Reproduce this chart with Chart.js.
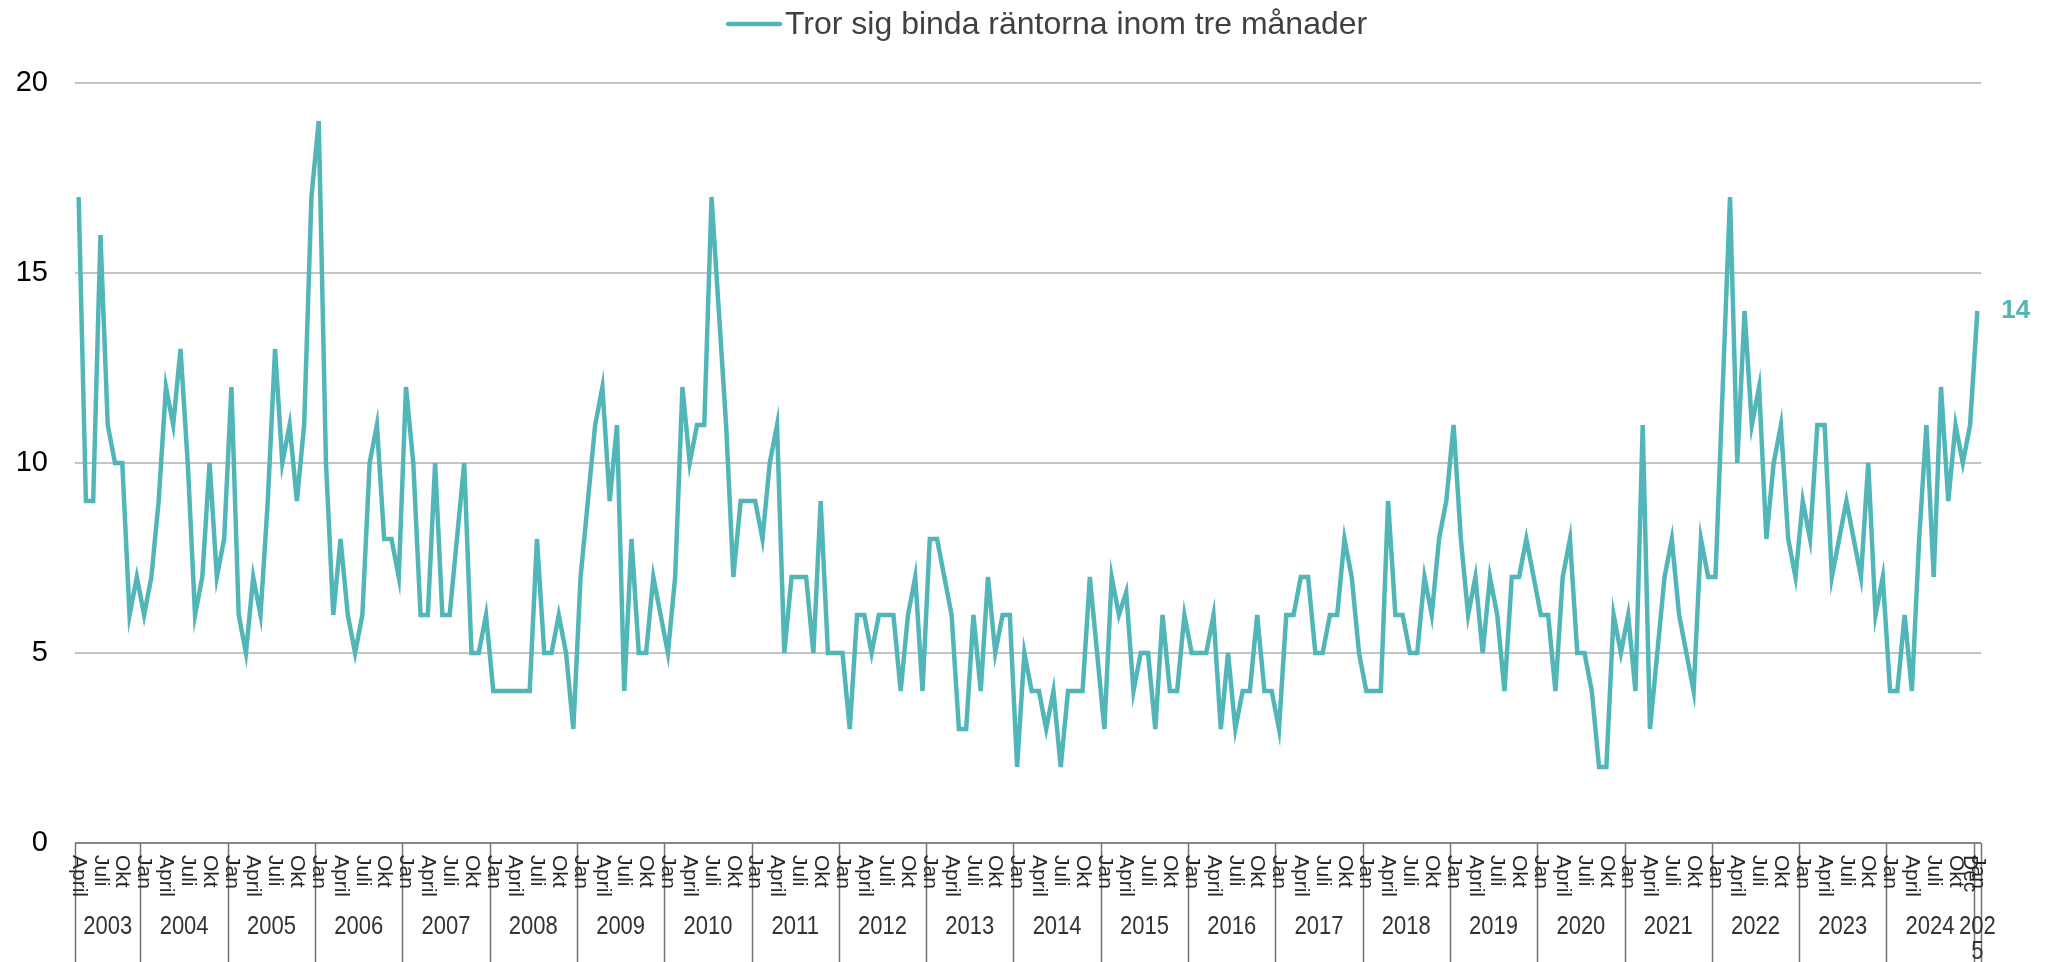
<!DOCTYPE html>
<html>
<head>
<meta charset="utf-8">
<script src="https://cdn.jsdelivr.net/npm/chart.js@4.4.1/dist/chart.umd.min.js"></script>
<style>
  html, body { margin: 0; padding: 0; background: #fff; }
  #chart { display: block; }
</style>
</head>
<body>
<canvas id="chart" width="2046" height="962"></canvas>
<script>
const seriesLabel = 'Tror sig binda räntorna inom tre månader'

// months of the survey: April 2003 .. Jan 2025
const years = [2003, 2004, 2005, 2006, 2007, 2008, 2009, 2010, 2011, 2012, 2013, 2014,
  2015, 2016, 2017, 2018, 2019, 2020, 2021, 2022, 2023, 2024, 2025]
const monthNames = ['Jan', 'Feb', 'Mars', 'April', 'Maj', 'Juni', 'Juli', 'Aug', 'Sep', 'Okt', 'Nov', 'Dec']
const firstMonth = 3   // April 2003
const lastMonth = 0    // Jan 2025

// month names written under the axis, plus the extra one at the end
const shownMonths = ['Jan', 'April', 'Juli', 'Okt']
const extraTicks = ['Dec 2024']

const values = [
  17, 9, 9, 16, 11, 10, 10, 6, 7,                 // 2003
  6, 7, 9, 12, 11, 13, 10, 6, 7, 10, 7, 8,        // 2004
  12, 6, 5, 7, 6, 9, 13, 10, 11, 9, 11, 17,       // 2005
  19, 10, 6, 8, 6, 5, 6, 10, 11, 8, 8, 7,         // 2006
  12, 10, 6, 6, 10, 6, 6, 8, 10, 5, 5, 6,         // 2007
  4, 4, 4, 4, 4, 4, 8, 5, 5, 6, 5, 3,             // 2008
  7, 9, 11, 12, 9, 11, 4, 8, 5, 5, 7, 6,          // 2009
  5, 7, 12, 10, 11, 11, 17, 14, 11, 7, 9, 9,      // 2010
  9, 8, 10, 11, 5, 7, 7, 7, 5, 9, 5, 5,           // 2011
  5, 3, 6, 6, 5, 6, 6, 6, 4, 6, 7, 4,             // 2012
  8, 8, 7, 6, 3, 3, 6, 4, 7, 5, 6, 6,             // 2013
  2, 5, 4, 4, 3, 4, 2, 4, 4, 4, 7, 5,             // 2014
  3, 7, 6, 6.6, 4, 5, 5, 3, 6, 4, 4, 6,           // 2015
  5, 5, 5, 6, 3, 5, 3, 4, 4, 6, 4, 4,             // 2016
  3, 6, 6, 7, 7, 5, 5, 6, 6, 8, 7, 5,             // 2017
  4, 4, 4, 9, 6, 6, 5, 5, 7, 6, 8, 9,             // 2018
  11, 8, 6, 7, 5, 7, 6, 4, 7, 7, 8, 7,            // 2019
  6, 6, 4, 7, 8, 5, 5, 4, 2, 2, 6, 5,             // 2020
  6, 4, 11, 3, 5, 7, 8, 6, 5, 4, 8, 7,            // 2021
  7, 12, 17, 10, 14, 11, 12, 8, 10, 11, 8, 7,     // 2022
  9, 8, 11, 11, 7, 8, 9, 8, 7, 10, 6, 7,          // 2023
  4, 4, 6, 4, 8, 11, 7, 12, 9, 11, 10, 11,        // 2024
  14                                              // 2025
]

const yTicks = [0, 5, 10, 15, 20]

const teal = '#52b6b9'
const font = "'Liberation Sans', Arial, sans-serif"

// build categories "April 2003" ... "Jan 2025"
const categories = []
const catYear = []
const catMonth = []
years.forEach((yr, k) => {
    const from = k === 0 ? firstMonth : 0
    const to = k === years.length - 1 ? lastMonth : 11
    for (let m = from; m <= to; m++) {
        categories.push(monthNames[m] + ' ' + yr)
        catYear.push(yr)
        catMonth.push(monthNames[m])
    }
})

// legend line + text at the top
const legendPlugin = {
    id: 'legendPlugin',
    afterDraw(chart) {
        const ctx = chart.ctx
        ctx.save()
        ctx.strokeStyle = teal
        ctx.lineWidth = 4.5
        ctx.lineCap = 'round'
        ctx.beginPath()
        ctx.moveTo(728, 24)
        ctx.lineTo(780, 24)
        ctx.stroke()
        ctx.fillStyle = '#404040'
        ctx.font = '32px ' + font
        ctx.textAlign = 'left'
        ctx.textBaseline = 'middle'
        ctx.fillText(seriesLabel, 785, 25)
        ctx.restore()
    }
}

// two level category axis: rotated months and years in boxes
const xAxisPlugin = {
    id: 'xAxisPlugin',
    afterDraw(chart) {
        const { ctx, chartArea } = chart
        const x = chart.scales.x
        const step = x.getPixelForValue(1) - x.getPixelForValue(0)
        const bottom = chartArea.bottom
        const end = chart.height

        ctx.save()
        ctx.strokeStyle = '#737373'
        ctx.lineWidth = 1.5
        ctx.beginPath()
        ctx.moveTo(chartArea.left, bottom)
        ctx.lineTo(chartArea.right, bottom)
        ctx.stroke()

        // year boundaries
        const bounds = []
        categories.forEach((c, i) => {
            if (i === 0 || catYear[i] !== catYear[i - 1]) bounds.push(i)
        })
        bounds.push(categories.length)
        ctx.beginPath()
        bounds.forEach(i => {
            const px = Math.round(x.getPixelForValue(0) + (i - 0.5) * step) + 0.5
            ctx.moveTo(px, bottom)
            ctx.lineTo(px, end)
        })
        ctx.stroke()

        // month labels
        ctx.fillStyle = '#262626'
        ctx.font = '21px ' + font
        ctx.textAlign = 'left'
        ctx.textBaseline = 'middle'
        categories.forEach((c, i) => {
            if (!shownMonths.includes(catMonth[i]) && !extraTicks.includes(c)) return
            const isJan = catMonth[i] === 'Jan'
            if (!isJan && i % 3 !== 0 && !extraTicks.includes(c)) return
            ctx.save()
            ctx.translate(x.getPixelForValue(i), bottom + 12)
            ctx.rotate(Math.PI / 2)
            ctx.fillText(catMonth[i], 0, 0)
            ctx.restore()
        })

        // year labels (slightly narrow type, like the original)
        ctx.fillStyle = '#333'
        ctx.font = '25px ' + font
        ctx.textAlign = 'center'
        for (let k = 0; k < bounds.length - 1; k++) {
            const a = x.getPixelForValue(0) + (bounds[k] - 0.5) * step
            const b = x.getPixelForValue(0) + (bounds[k + 1] - 0.5) * step
            const label = String(catYear[bounds[k]])
            const cx = (a + b) / 2
            ctx.save()
            ctx.translate(cx, 0)
            ctx.scale(0.88, 1)
            if (ctx.measureText(label).width * 0.88 > b - a + 30) {
                ctx.fillText(label.slice(0, 3), 0, 927)
                ctx.fillText(label.slice(3), 0, 952)
            } else {
                ctx.fillText(label, 0, 927)
            }
            ctx.restore()
        }
        ctx.restore()
    }
}

// value of the last month written next to the line
const endLabelPlugin = {
    id: 'endLabelPlugin',
    afterDatasetsDraw(chart) {
        const meta = chart.getDatasetMeta(0)
        const last = meta.data[meta.data.length - 1]
        const ctx = chart.ctx
        ctx.save()
        ctx.fillStyle = teal
        ctx.font = 'bold 26px ' + font
        ctx.textAlign = 'left'
        ctx.textBaseline = 'middle'
        ctx.fillText(values[values.length - 1], last.x + 24, last.y)
        ctx.restore()
    }
}

const ctx = document.getElementById('chart').getContext('2d')
const myChart = new Chart(ctx, {
    type: 'line',
    data: {
        labels: categories,
        datasets: [{
            label: seriesLabel,
            data: values,
            borderColor: teal,
            backgroundColor: teal,
            borderWidth: 4.5,
            pointRadius: 0,
            tension: 0,
            fill: false,
        }]
    },
    options: {
        responsive: false,
        animation: false,
        devicePixelRatio: 1,
        layout: { padding: { top: 83, right: 65, bottom: 0, left: 0 } },
        plugins: {
            legend: { display: false },
            tooltip: { enabled: false },
        },
        scales: {
            x: {
                type: 'category',
                offset: true,
                ticks: { display: false },
                grid: { display: false },
                border: { display: false },
                afterFit(s) { s.height = 119 },
            },
            y: {
                min: 0,
                max: 20,
                afterBuildTicks(s) { s.ticks = yTicks.map(v => ({ value: v })) },
                ticks: { padding: 27, color: '#000', font: { size: 29, family: font } },
                grid: { color: '#c4c4c4', lineWidth: 2, drawTicks: false },
                border: { display: false },
                afterFit(s) { s.width = 75 },
            }
        }
    },
    plugins: [legendPlugin, xAxisPlugin, endLabelPlugin]
})
</script>
</body>
</html>
